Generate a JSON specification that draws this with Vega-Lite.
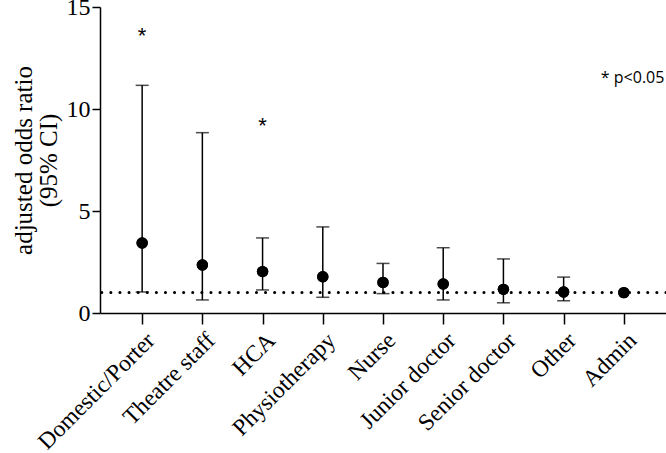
{
  "$schema": "https://vega.github.io/schema/vega-lite/v6.json",
  "width": 566,
  "height": 306,
  "autosize": {"type": "none"},
  "padding": {"left": 100, "top": 7, "right": 0, "bottom": 140},
  "background": "white",
  "config": {
    "view": {"stroke": null},
    "axis": {"labelFont": "Liberation Serif", "titleFont": "Liberation Serif", "labelColor": "black", "titleColor": "black", "domainColor": "black", "tickColor": "black", "grid": false, "domainWidth": 1.5, "tickWidth": 1.5, "titleFontWeight": "normal"}
  },
  "datasets": {
    "d": [
      {"role": "Domestic/Porter", "or": 3.43, "lo": 1.03, "hi": 11.16, "sig": "*", "sy": 13.8},
      {"role": "Theatre staff", "or": 2.35, "lo": 0.64, "hi": 8.84, "sig": "", "sy": null},
      {"role": "HCA", "or": 2.03, "lo": 1.13, "hi": 3.68, "sig": "*", "sy": 9.4},
      {"role": "Physiotherapy", "or": 1.78, "lo": 0.77, "hi": 4.22, "sig": "", "sy": null},
      {"role": "Nurse", "or": 1.5, "lo": 0.95, "hi": 2.43, "sig": "", "sy": null},
      {"role": "Junior doctor", "or": 1.42, "lo": 0.64, "hi": 3.2, "sig": "", "sy": null},
      {"role": "Senior doctor", "or": 1.16, "lo": 0.5, "hi": 2.65, "sig": "", "sy": null},
      {"role": "Other", "or": 1.03, "lo": 0.6, "hi": 1.76, "sig": "", "sy": null},
      {"role": "Admin", "or": 1.0, "lo": null, "hi": null, "sig": "", "sy": null}
    ],
    "ref": [{"v": 1}],
    "note": [{"role": "Admin", "y": 11.5, "label": "* p<0.05"}]
  },
  "layer": [
    {
      "data": {"name": "d"},
      "mark": {"type": "point", "filled": true, "shape": "circle", "size": 130, "color": "black", "opacity": 1},
      "encoding": {
        "x": {"field": "role", "type": "nominal", "sort": null,
          "scale": {"type": "point", "padding": 0.7, "domain": ["Domestic/Porter", "Theatre staff", "HCA", "Physiotherapy", "Nurse", "Junior doctor", "Senior doctor", "Other", "Admin"]},
          "axis": {"title": null, "labelAngle": -45, "labelAlign": "right", "labelBaseline": "top", "labelFontSize": 23.5, "tickSize": 11, "labelPadding": 4, "domainWidth": 1.5}},
        "y": {"field": "or", "type": "quantitative",
          "scale": {"domain": [0, 15], "nice": false},
          "axis": {"values": [0, 5, 10, 15], "title": ["adjusted odds ratio", "(95% CI)"], "titleFontSize": 25, "labelFontSize": 24, "tickSize": 8, "labelPadding": 2, "titlePadding": 5, "titleLineHeight": 25}}
      }
    },
    {
      "data": {"name": "ref"},
      "mark": {"type": "rule", "strokeDash": [0.1, 9], "strokeWidth": 3, "strokeCap": "round", "color": "black"},
      "encoding": {"y": {"field": "v", "type": "quantitative"}}
    },
    {
      "data": {"name": "d"},
      "transform": [{"filter": "datum.hi != null"}],
      "mark": {"type": "rule", "strokeWidth": 1.5, "color": "black"},
      "encoding": {
        "x": {"field": "role", "type": "nominal", "sort": null},
        "y": {"field": "lo", "type": "quantitative"},
        "y2": {"field": "hi"}
      }
    },
    {
      "data": {"name": "d"},
      "transform": [{"filter": "datum.hi != null"}],
      "mark": {"type": "tick", "orient": "horizontal", "thickness": 1.5, "size": 13, "color": "black"},
      "encoding": {
        "x": {"field": "role", "type": "nominal", "sort": null},
        "y": {"field": "hi", "type": "quantitative"}
      }
    },
    {
      "data": {"name": "d"},
      "transform": [{"filter": "datum.hi != null"}],
      "mark": {"type": "tick", "orient": "horizontal", "thickness": 1.5, "size": 13, "color": "black"},
      "encoding": {
        "x": {"field": "role", "type": "nominal", "sort": null},
        "y": {"field": "lo", "type": "quantitative"}
      }
    },
    {
      "data": {"name": "d"},
      "mark": {"type": "point", "filled": true, "shape": "circle", "size": 130, "color": "black", "opacity": 1},
      "encoding": {
        "x": {"field": "role", "type": "nominal", "sort": null},
        "y": {"field": "or", "type": "quantitative"}
      }
    },
    {
      "data": {"name": "d"},
      "transform": [{"filter": "datum.sy != null"}],
      "mark": {"type": "text", "font": "Liberation Sans", "fontSize": 22, "baseline": "middle", "dy": 5, "color": "black"},
      "encoding": {
        "x": {"field": "role", "type": "nominal", "sort": null},
        "y": {"field": "sy", "type": "quantitative"},
        "text": {"field": "sig"}
      }
    },
    {
      "data": {"name": "note"},
      "mark": {"type": "text", "font": "Open Sans", "fontSize": 16, "align": "left", "baseline": "middle", "dx": -23, "color": "black"},
      "encoding": {
        "x": {"field": "role", "type": "nominal", "sort": null},
        "y": {"field": "y", "type": "quantitative"},
        "text": {"field": "label"}
      }
    }
  ]
}
